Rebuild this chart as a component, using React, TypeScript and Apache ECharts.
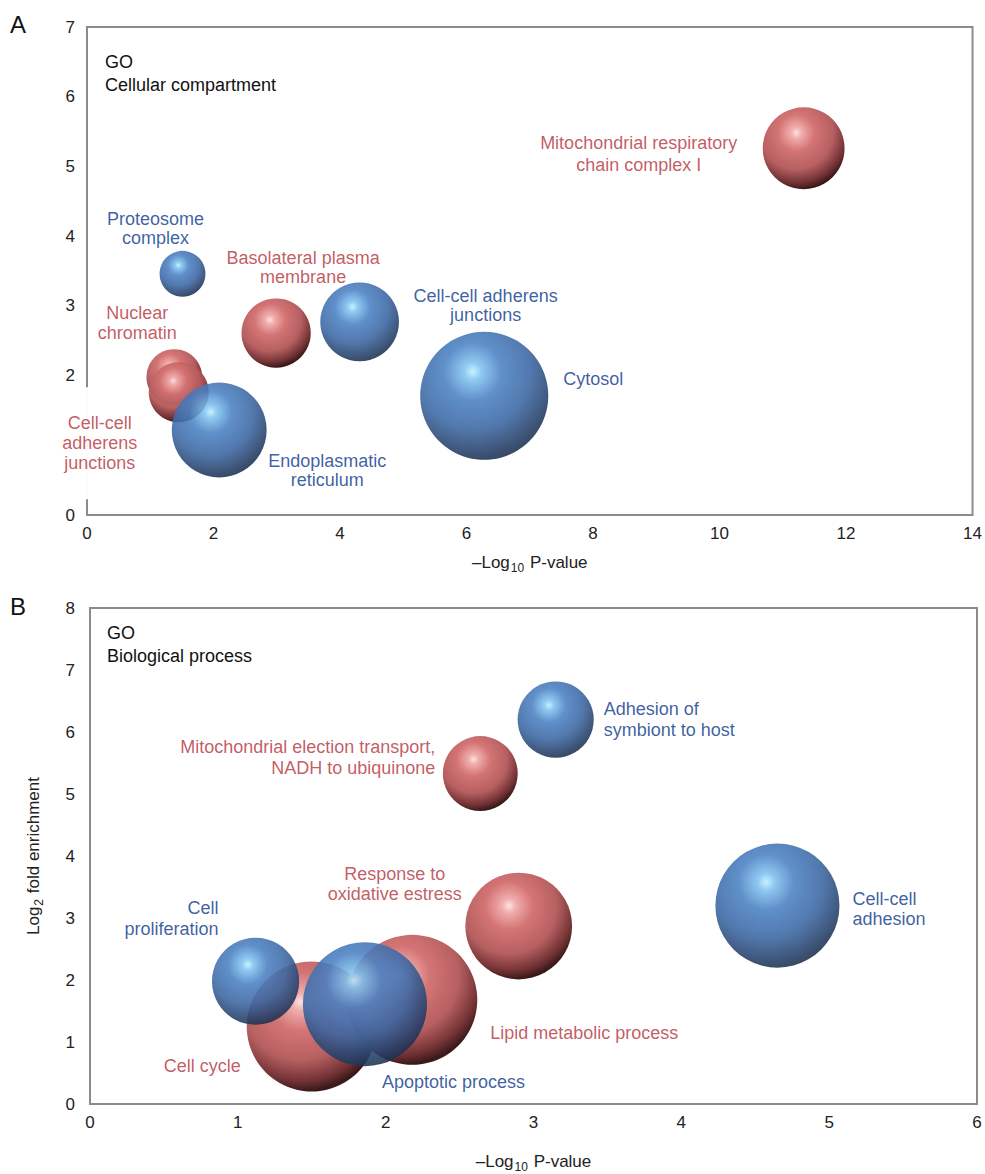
import React, { useEffect, useRef } from 'react';
import * as echarts from 'echarts';

// ---------- Panel A: GO cellular compartment ----------
const ccLabels = [
  'Mitochondrial respiratory\nchain complex I',
  'Proteosome\ncomplex',
  'Basolateral plasma\nmembrane',
  'Cell-cell adherens\njunctions',
  'Nuclear\nchromatin',
  'Cell-cell\nadherens\njunctions',
  'Endoplasmatic\nreticulum',
  'Cytosol',
];
const ccNegLog10P = [11.33, 1.51, 2.99, 4.31, 1.38, 1.45, 2.09, 6.28];
const ccLog2FE = [5.26, 3.46, 2.61, 2.77, 1.98, 1.76, 1.22, 1.71];
const ccGenes = [67, 21, 48, 62, 31, 36, 90, 164];
const ccDirection = ['up', 'down', 'up', 'down', 'up', 'up', 'down', 'down'];
const ccXTicks = { min: 0, max: 14, interval: 2 };
const ccYTicks = { min: 0, max: 7, interval: 1 };
// tick values whose label is hidden behind a term label in the reference
const ccYHiddenTicks = [1];

// ---------- Panel B: GO biological process ----------
const bpLabels = [
  'Adhesion of\nsymbiont to host',
  'Mitochondrial election transport,\nNADH to ubiquinone',
  'Response to\noxidative estress',
  'Cell-cell\nadhesion',
  'Cell\nproliferation',
  'Cell cycle',
  'Apoptotic process',
  'Lipid metabolic process',
];
const bpNegLog10P = [3.15, 2.64, 2.9, 4.65, 1.12, 1.5, 1.86, 2.18];
const bpLog2FE = [6.2, 5.33, 2.87, 3.2, 1.98, 1.25, 1.61, 1.68];
const bpGenes = [58, 56, 114, 154, 76, 169, 154, 169];
const bpDirection = ['down', 'up', 'up', 'down', 'down', 'up', 'down', 'up'];
const bpXTicks = { min: 0, max: 6, interval: 1 };
const bpYTicks = { min: 0, max: 8, interval: 1 };

// ---------- label placement (style, px offsets from bubble centre) ----------
type LL = { offset: number[]; align: string; lh: number; pad?: number[] };
const ccLabelLayout: LL[] = [
  { offset: [-165, 6], align: 'center', lh: 22 },
  { offset: [-27, -45], align: 'center', lh: 19 },
  { offset: [27, -66], align: 'center', lh: 19 },
  { offset: [126, -16], align: 'center', lh: 19 },
  { offset: [-37, -54], align: 'center', lh: 20 },
  { offset: [-79, 51], align: 'center', lh: 20, pad: [2, 4, 50, 4] },
  { offset: [108, 41], align: 'center', lh: 19 },
  { offset: [79, -17], align: 'left', lh: 20 },
];
const bpLabelLayout: LL[] = [
  { offset: [48, 0], align: 'left', lh: 21 },
  { offset: [-45, -16], align: 'right', lh: 21 },
  { offset: [-124, -42], align: 'center', lh: 20 },
  { offset: [75, 3], align: 'left', lh: 20 },
  { offset: [-37, -63], align: 'right', lh: 21 },
  { offset: [-71, 39], align: 'right', lh: 20 },
  { offset: [17, 78], align: 'left', lh: 20 },
  { offset: [78, 33], align: 'left', lh: 20 },
];

const FONT = '"Liberation Sans", Arial, Helvetica, sans-serif';
const RED_TEXT = '#c25a61';
const BLUE_TEXT = '#254b95';
const FRAME = '#8c8c8c';

const sphere = (stops: [number, string][]) => ({
  type: 'radial',
  x: 0.41,
  y: 0.31,
  r: 0.75,
  colorStops: stops.map(([offset, color]) => ({ offset, color })),
});
const RED_SPHERE = sphere([
  [0, '#fde2e2'],
  [0.09, '#f0aaaa'],
  [0.3, '#d27070'],
  [0.6, '#b45a5c'],
  [0.82, '#6c2a2c'],
  [0.93, '#2e1010'],
  [1, '#b06060'],
]);
const BLUE_SPHERE = sphere([
  [0, '#bff0ff'],
  [0.09, '#80c2f0'],
  [0.3, '#4a80c2'],
  [0.6, '#3a66a2'],
  [0.84, '#243f68'],
  [0.94, '#1c304f'],
  [1, '#4676b6'],
]);

function panelSeries(
  idx: number,
  labels: string[],
  xs: number[],
  ys: number[],
  ns: number[],
  dirs: string[],
  layout: LL[]
) {
  return ['up', 'down'].map((dir) => {
    const data: any[] = [];
    xs.forEach((x, i) => {
      if (dirs[i] !== dir) return;
      const L = layout[i];
      data.push({
        name: labels[i],
        value: [x, ys[i], ns[i]],
        label: {
          show: true,
          position: 'inside',
          formatter: '{b}',
          offset: L.offset,
          align: L.align,
          verticalAlign: 'middle',
          lineHeight: L.lh,
          color: dir === 'up' ? RED_TEXT : BLUE_TEXT,
          fontSize: 18,
          fontFamily: FONT,
          ...(L.pad ? { backgroundColor: '#ffffff', padding: L.pad } : {}),
        },
      });
    });
    return {
      type: 'scatter',
      xAxisIndex: idx,
      yAxisIndex: idx,
      symbol: 'circle',
      symbolSize: (v: number[]) => 10 * Math.sqrt(v[2]),
      data,
      itemStyle: {
        color: dir === 'up' ? RED_SPHERE : BLUE_SPHERE,
        opacity: dir === 'up' ? 0.97 : 0.88,
      },
      emphasis: { disabled: true },
      z: dir === 'up' ? 2 : 3,
    };
  });
}

const rich = {
  base: { fontSize: 17, color: '#222', fontFamily: FONT },
  sub: { fontSize: 12, color: '#222', fontFamily: FONT, padding: [12, 1, 0, 1] },
};

function xAxisCfg(grid: number, t: any, gap: number) {
  return {
    gridIndex: grid,
    type: 'value',
    ...t,
    axisLine: { show: false },
    axisTick: { show: false },
    splitLine: { show: false },
    axisLabel: { fontSize: 17, color: '#222', margin: 10, fontFamily: FONT },
    name: '{base|–Log}{sub|10}{base| P-value}',
    nameLocation: 'middle',
    nameGap: gap,
    nameTextStyle: { rich },
  };
}
function yAxisCfg(grid: number, t: any, margin: number, withName: boolean, hidden: number[] = []) {
  return {
    gridIndex: grid,
    type: 'value',
    ...t,
    axisLine: { show: false },
    axisTick: { show: false },
    splitLine: { show: false },
    axisLabel: {
      fontSize: 17,
      color: '#222',
      margin,
      fontFamily: FONT,
      formatter: (v: number) => (hidden.includes(v) ? '' : String(v)),
    },
    ...(withName
      ? {
          name: '{base|Log}{sub|2}{base| fold enrichment}',
          nameLocation: 'middle',
          nameGap: 45,
          nameTextStyle: { rich },
        }
      : {}),
  };
}

export default function App() {
  const ref = useRef<HTMLDivElement>(null);
  useEffect(() => {
    document.body.style.margin = '0';
    if (!ref.current) return;
    const chart = echarts.init(ref.current, null, { renderer: 'svg' });
    chart.setOption({
      animation: false,
      backgroundColor: '#ffffff',
      textStyle: { fontFamily: FONT },
      grid: [
        { left: 87, top: 27, width: 891, height: 488, show: true, borderColor: FRAME, borderWidth: 2, backgroundColor: 'transparent' },
        { left: 90, top: 608, width: 887, height: 500, show: true, borderColor: FRAME, borderWidth: 2, backgroundColor: 'transparent' },
      ],
      xAxis: [xAxisCfg(0, ccXTicks, 35), xAxisCfg(1, bpXTicks, 45)],
      yAxis: [yAxisCfg(0, ccYTicks, 12, false, ccYHiddenTicks), yAxisCfg(1, bpYTicks, 15, true)],
      graphic: [
        { type: 'text', left: 10, top: 12, style: { text: 'A', fontSize: 24, fill: '#111', fontFamily: FONT } },
        { type: 'text', left: 10, top: 594, style: { text: 'B', fontSize: 24, fill: '#111', fontFamily: FONT } },
        { type: 'text', x: 105, y: 50, style: { text: 'GO\nCellular compartment', fontSize: 18, lineHeight: 23, fill: '#111', fontFamily: FONT, verticalAlign: 'top' } },
        { type: 'text', x: 107, y: 621, style: { text: 'GO\nBiological process', fontSize: 18, lineHeight: 23, fill: '#111', fontFamily: FONT, verticalAlign: 'top' } },
      ],
      series: [
        ...panelSeries(0, ccLabels, ccNegLog10P, ccLog2FE, ccGenes, ccDirection, ccLabelLayout),
        ...panelSeries(1, bpLabels, bpNegLog10P, bpLog2FE, bpGenes, bpDirection, bpLabelLayout),
      ],
    });
    return () => chart.dispose();
  }, []);
  return <div ref={ref} style={{ width: 985, height: 1174 }} />;
}
